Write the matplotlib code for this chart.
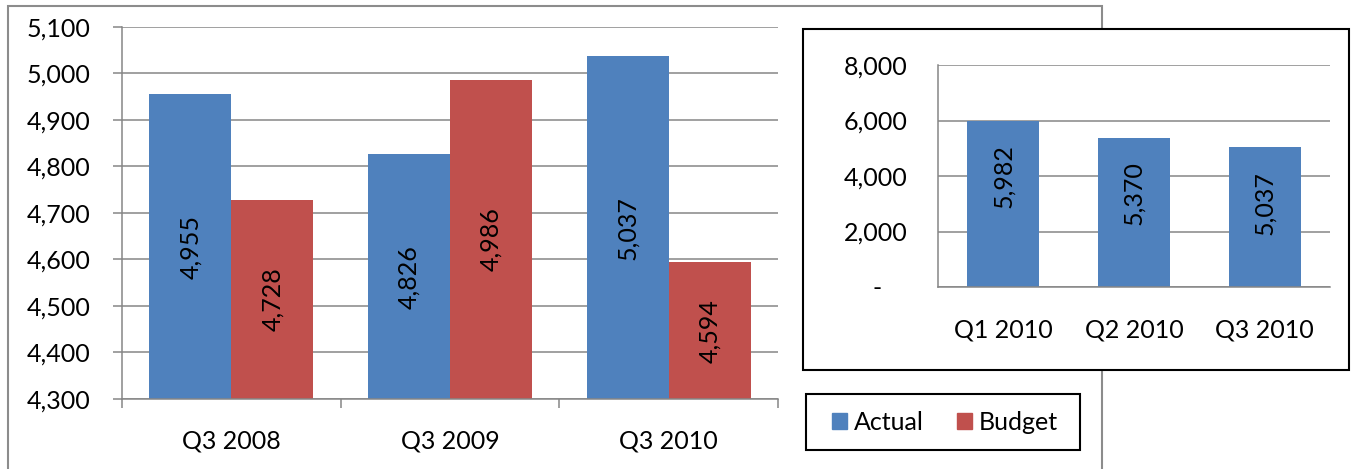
import matplotlib.pyplot as plt
import numpy as np
from matplotlib.patches import Rectangle
from matplotlib.ticker import FuncFormatter

plt.rcParams['font.family'] = ['Lato', 'DejaVu Sans']
FS = 18

quarters = ['Q3 2008', 'Q3 2009', 'Q3 2010']
actual = [4955, 4826, 5037]
budget = [4728, 4986, 4594]

recent_quarters = ['Q1 2010', 'Q2 2010', 'Q3 2010']
recent_actual = [5982, 5370, 5037]

BLUE = '#4F81BD'
RED = '#C0504D'
GREY = '#868686'

W, H = 1354, 469
fig = plt.figure(figsize=(W / 100, H / 100), dpi=100)


def box(x0, y0, x1, y1):
    # pixel box (top-left origin) -> figure fraction rect
    return [x0 / W, 1 - y1 / H, (x1 - x0) / W, (y1 - y0) / H]


# grey frame round the main chart (runs off the bottom edge)
fig.add_artist(Rectangle((8 / W, -0.1), (1102 - 8) / W, 1.1 - 6 / H,
                         transform=fig.transFigure, facecolor='none',
                         edgecolor='#8c8c8c', lw=1.5, zorder=0.5))

# main chart
ax = fig.add_axes(box(122, 27, 778, 399))
x = np.arange(len(quarters))
w = 0.375
ax.bar(x - w / 2, actual, w, color=BLUE, zorder=2)
ax.bar(x + w / 2, budget, w, color=RED, zorder=2)
ymin, ymax = 4300, 5100
ax.set_ylim(ymin, ymax)
ax.set_xlim(-0.5, 2.5)
for xs, vals in ((x - w / 2, actual), (x + w / 2, budget)):
    for xi, v in zip(xs, vals):
        ax.text(xi, (ymin + v) / 2, f'{v:,}', rotation=90, ha='center',
                va='center', fontsize=FS, zorder=3)

ax.set_yticks(np.arange(ymin, ymax + 1, 100))
ax.yaxis.set_major_formatter(FuncFormatter(lambda v, p: f'{v:,.0f}'))
ax.yaxis.grid(True, color=GREY, lw=1.1, zorder=1)
ax.set_axisbelow(True)
ax.set_xticks(x)
ax.set_xticklabels(quarters)
ax.set_xticks([-0.5, 0.5, 1.5, 2.5], minor=True)
ax.tick_params(axis='x', which='major', length=0, pad=22, labelsize=FS)
ax.tick_params(axis='x', which='minor', length=6.5, width=1.1, color=GREY)
ax.tick_params(axis='y', length=6.5, width=1.1, color=GREY, pad=16,
               labelsize=FS)
for s in ('top', 'right'):
    ax.spines[s].set_visible(False)
for s in ('left', 'bottom'):
    ax.spines[s].set_color(GREY)
    ax.spines[s].set_linewidth(1.1)

# inset with the last three quarters
ib = box(803, 29, 1349, 370)
fig.add_artist(Rectangle(ib[:2], *ib[2:], transform=fig.transFigure,
                         facecolor='white', edgecolor='black', lw=1.5,
                         zorder=2))
ax2 = fig.add_axes(box(938, 65, 1330, 287), zorder=3)
ax2.patch.set_visible(False)
x2 = np.arange(len(recent_quarters))
ax2.bar(x2, recent_actual, 0.55, color=BLUE, zorder=2)
for xi, v in zip(x2, recent_actual):
    ax2.annotate(f'{v:,}', xy=(xi, v), xytext=(0, -17),
                 textcoords='offset points', rotation=90, ha='center',
                 va='top', fontsize=FS, zorder=3)
ax2.set_ylim(0, 8000)
ax2.set_xlim(-0.5, 2.5)
ax2.set_yticks(np.arange(0, 8001, 2000))
ax2.yaxis.set_major_formatter(
    FuncFormatter(lambda v, p: '-    ' if v == 0 else f'{v:,.0f}'))
ax2.yaxis.grid(True, color=GREY, lw=1.1, zorder=1)
ax2.set_axisbelow(True)
ax2.set_xticks(x2)
ax2.set_xticklabels(recent_quarters)
ax2.tick_params(axis='x', length=0, pad=23, labelsize=FS)
ax2.tick_params(axis='y', length=0, pad=22, labelsize=FS)
for s in ('top', 'right'):
    ax2.spines[s].set_visible(False)
for s in ('left', 'bottom'):
    ax2.spines[s].set_color(GREY)
    ax2.spines[s].set_linewidth(1.1)

# legend box
lb = box(806, 394, 1080, 450)
fig.add_artist(Rectangle(lb[:2], *lb[2:], transform=fig.transFigure,
                         facecolor='white', edgecolor='black', lw=1.5,
                         zorder=2))
handles = [Rectangle((0, 0), 1, 1, color=BLUE), Rectangle((0, 0), 1, 1, color=RED)]
leg = fig.legend(handles, ['Actual', 'Budget'], loc='center',
                 bbox_to_anchor=(945 / W, 1 - 422 / H), ncol=2, frameon=False,
                 fontsize=FS, handlelength=0.6, handleheight=0.6,
                 handletextpad=0.3, columnspacing=1.3)
leg.set_zorder(3)

fig.savefig('out.png', dpi=100)
